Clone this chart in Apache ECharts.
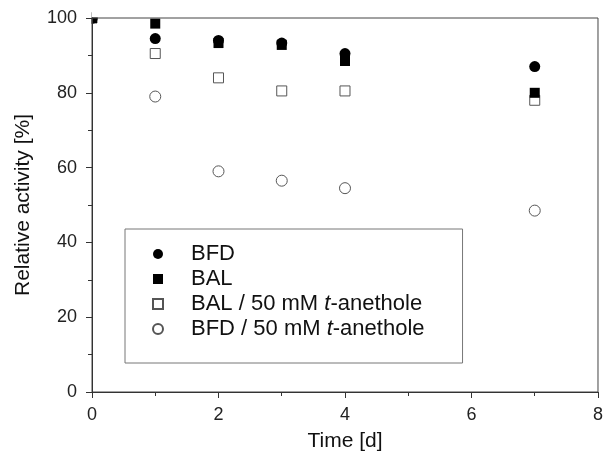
<!DOCTYPE html>
<html>
<head>
<meta charset="utf-8">
<script src="https://cdn.jsdelivr.net/npm/echarts@6/dist/echarts.min.js"></script>
<style>
  html, body { margin: 0; padding: 0; background: #fff; }
  #chart { width: 606px; height: 457px; }
</style>
</head>
<body>
<div id="chart"></div>
<script>
// data
var days = [0, 1, 2, 3, 4, 7];
var bfd = [100, 94.5, 94, 93.3, 90.5, 87];
var bal = [100, 98.5, 93.3, 92.8, 88.5, 80];
var balAnethole = [100, 90.5, 84, 80.5, 80.5, 78];
var bfdAnethole = [100, 79, 59, 56.5, 54.5, 48.5];
var names = ['BFD', 'BAL', 'BAL / 50 mM t-anethole', 'BFD / 50 mM t-anethole'];

function pairs(ys) {
  return days.map(function (d, i) { return [d, ys[i]]; });
}

var chart = echarts.init(document.getElementById('chart'));

var font = 'Liberation Sans, Arial, sans-serif';

var option = {
  animation: false,
  textStyle: { fontFamily: font },
  grid: {
    left: 92, right: 6, top: 18, bottom: 62,
    show: true, borderColor: '#444', borderWidth: 1, z: 10
  },
  // white masks hide the parts of the t=0 markers that fall outside the box
  graphic: [
    { type: 'rect', z: 5, shape: { x: 78, y: 8, width: 13.5, height: 20 }, style: { fill: '#fff' } },
    { type: 'rect', z: 5, shape: { x: 91.5, y: 8, width: 12, height: 9.5 }, style: { fill: '#fff' } }
  ],
  legend: {
    orient: 'vertical',
    left: 125, top: 229,
    padding: [14, 38, 23, 27],
    borderColor: '#777', borderWidth: 1,
    itemWidth: 10, itemHeight: 10,
    itemGap: 3,
    data: names,
    formatter: function (name) {
      return '{g|}' + name.replace('t-anethole', '{i|t}-anethole');
    },
    textStyle: {
      fontSize: 22, color: '#111', lineHeight: 22,
      rich: {
        g: { width: 23 },
        i: { fontStyle: 'italic', fontSize: 22, color: '#111' }
      }
    }
  },
  xAxis: {
    type: 'value', min: 0, max: 8, interval: 2, z: 10,
    name: 'Time [d]', nameLocation: 'middle', nameGap: 39,
    nameTextStyle: { fontSize: 21, color: '#111' },
    axisLine: { lineStyle: { color: '#333', width: 1 } },
    axisTick: { inside: false, length: 6, lineStyle: { color: '#333' } },
    minorTick: { show: true, splitNumber: 2, length: 4, lineStyle: { color: '#333' } },
    axisLabel: { fontSize: 18, color: '#222', margin: 14 },
    splitLine: { show: false }
  },
  yAxis: {
    type: 'value', min: 0, max: 100, interval: 20, z: 10,
    name: 'Relative activity [%]', nameLocation: 'middle', nameGap: 58,
    nameTextStyle: { fontSize: 21, color: '#111' },
    axisLine: { lineStyle: { color: '#333', width: 1 } },
    axisTick: { inside: false, length: 6, lineStyle: { color: '#333' } },
    minorTick: { show: true, splitNumber: 2, length: 4, lineStyle: { color: '#333' } },
    axisLabel: { fontSize: 18, color: '#222', margin: 15 },
    splitLine: { show: false }
  },
  series: [
    {
      name: names[3], type: 'scatter', data: pairs(bfdAnethole),
      symbol: 'circle', symbolSize: 11,
      itemStyle: { color: '#fff', borderColor: '#555', borderWidth: 1, opacity: 1 }
    },
    {
      name: names[2], type: 'scatter', data: pairs(balAnethole),
      symbol: 'rect', symbolSize: 10,
      itemStyle: { color: '#fff', borderColor: '#555', borderWidth: 1, opacity: 1 }
    },
    {
      name: names[0], type: 'scatter', data: pairs(bfd),
      symbol: 'circle', symbolSize: 11,
      itemStyle: { color: '#000', opacity: 1 }
    },
    {
      name: names[1], type: 'scatter', data: pairs(bal),
      symbol: 'rect', symbolSize: 10,
      itemStyle: { color: '#000', opacity: 1 }
    }
  ]
};

chart.setOption(option);
</script>
</body>
</html>
